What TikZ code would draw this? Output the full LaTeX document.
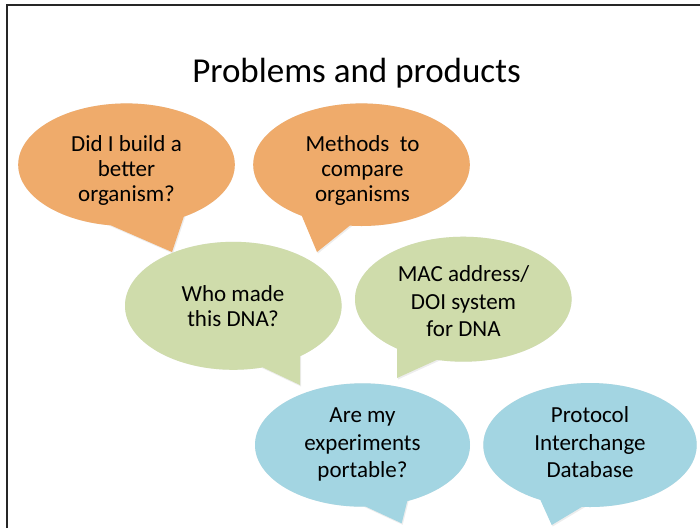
\documentclass[tikz,border=0pt]{standalone}
\usepackage{fontspec}
\setmainfont{Carlito}
\definecolor{orangeB}{HTML}{EFAB6B}
\definecolor{greenB}{HTML}{CFDCAB}
\definecolor{blueB}{HTML}{A3D5E2}
\newcommand\mybubble[7]{%
  \begin{scope}[shift={(1,1.5)}]
    \fill[black,opacity=0.07] (#2) ellipse [x radius=#3pt, y radius=#4pt]
      (#5) -- (#6) -- (#7) -- cycle;
  \end{scope}
  \fill[#1] (#2) ellipse [x radius=#3pt, y radius=#4pt]
    (#5) -- (#6) -- (#7) -- cycle;
}
\begin{document}
\begin{tikzpicture}[x=1pt,y=-1pt,
  txt/.style={anchor=base,align=center,inner sep=0pt,font=\fontsize{23}{25}\selectfont},
  txtb/.style={txt,font=\fontsize{23}{27.5}\selectfont},
  title/.style={font=\fontsize{35}{40}\selectfont,inner sep=0pt,anchor=base}]
\useasboundingbox (0,0) rectangle (700,528);
\fill[white] (0,0) rectangle (700,528);
\draw[line width=1.5pt,black!85] (7,528) -- (7,5) -- (700,5);
\node[title] (t) at (356.5,82) {Problems and products};
% orange
\coordinate (c1) at (126.5,164.7);
\mybubble{orangeB}{c1}{108.3}{61.3}{94,218}{172,252}{188,204}
\coordinate (c2) at (361.5,164.7);
\mybubble{orangeB}{c2}{108.3}{61.3}{296,202}{317,252}{363,215}
% green
\coordinate (c3) at (233.3,305.8);
\mybubble{greenB}{c3}{108.3}{64}{236.6,355}{300,385}{300,330}
\coordinate (c4) at (463.3,299.2);
\mybubble{greenB}{c4}{108.3}{62.5}{397,330}{397,378}{463,348}
% blue
\coordinate (c5) at (362.5,445);
\mybubble{blueB}{c5}{107.5}{61.7}{345,497}{401.7,523.3}{411.7,483.3}
\coordinate (c6) at (590,445);
\mybubble{blueB}{c6}{106.7}{62}{535,488}{551.7,525}{601.7,495}
% texts
\node[txt] (q1) at (126.5,201.7) {Did I build a\\better\\organism?};
\node[txt] (p1) at (362.5,201.7) {Methods\ \ to\\compare\\organisms};
\node[txt] (q2) at (233,326.7) {Who made\\this DNA?};
\node[txtb] (p2) at (463.5,336.5) {MAC address/\\DOI system\\for DNA};
\node[txtb] (q3) at (362.5,477.5) {Are my\\experiments\\portable?};
\node[txtb] (p3) at (590,477.5) {Protocol\\Interchange\\Database};
\end{tikzpicture}
\end{document}
